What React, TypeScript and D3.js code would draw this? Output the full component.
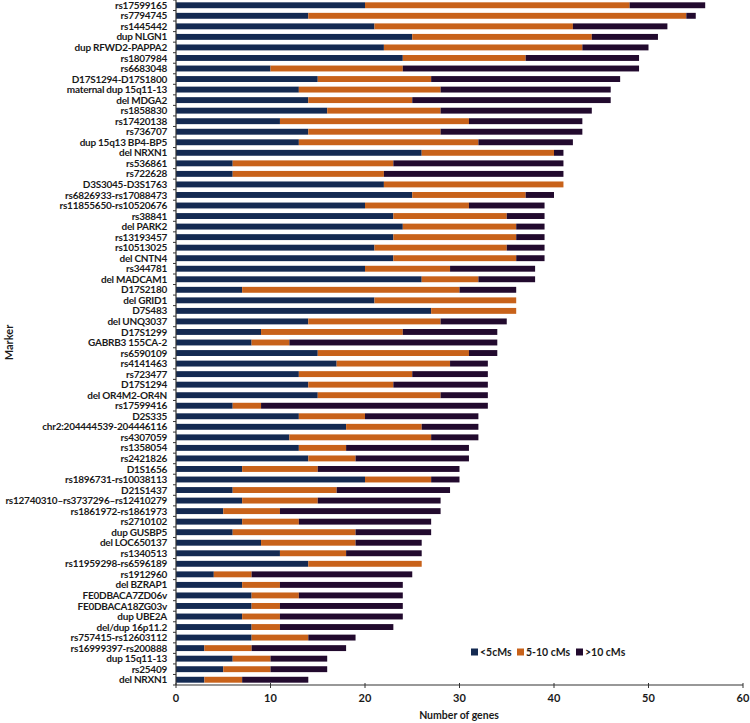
import React from "react";
import * as d3 from "d3";

const categories = [
  "rs17599165", "rs7794745", "rs1445442", "dup NLGN1", "dup RFWD2-PAPPA2", "rs1807984", "rs6683048",
  "D17S1294-D17S1800", "maternal dup 15q11-13", "del MDGA2", "rs1858830", "rs17420138", "rs736707",
  "dup 15q13 BP4-BP5", "del NRXN1", "rs536861", "rs722628", "D3S3045-D3S1763", "rs6826933-rs17088473",
  "rs11855650-rs10520676", "rs38841", "del PARK2", "rs13193457", "rs10513025", "del CNTN4", "rs344781",
  "del MADCAM1", "D17S2180", "del GRID1", "D7S483", "del UNQ3037", "D17S1299", "GABRB3 155CA-2",
  "rs6590109", "rs4141463", "rs723477", "D17S1294", "del OR4M2-OR4N", "rs17599416 ", "D2S335",
  "chr2:204444539-204446116", "rs4307059", "rs1358054", "rs2421826", "D1S1656", "rs1896731-rs10038113",
  "D21S1437", "rs12740310\u2013rs3737296\u2013rs12410279", "rs1861972-rs1861973", "rs2710102", "dup GUSBP5",
  "del LOC650137", "rs1340513", "rs11959298-rs6596189", "rs1912960", "del BZRAP1", "FE0DBACA7ZD06v",
  "FE0DBACA18ZG03v", "dup UBE2A", "del/dup 16p11.2", "rs757415-rs12603112", "rs16999397-rs200888",
  "dup 15q11-13", "rs25409", "del NRXN1 ",
];

const lt5 = [
  20, 14, 21, 25, 22, 24, 10, 15, 13, 14, 16, 11, 14, 13, 26, 6, 6, 22, 25, 20, 23, 24, 23, 21, 23, 20,
  26, 7, 21, 27, 14, 9, 8, 15, 17, 13, 14, 15, 6, 13, 18, 12, 13, 14, 7, 20, 6, 7, 5, 7, 6, 9, 11, 14,
  4, 7, 8, 8, 7, 8, 8, 3, 6, 5, 3,
];
const mid5to10 = [
  28, 40, 21, 19, 21, 13, 14, 12, 15, 11, 12, 20, 14, 19, 14, 17, 16, 19, 12, 11, 12, 12, 13, 14, 13, 9,
  6, 23, 15, 9, 14, 15, 4, 16, 12, 12, 9, 13, 3, 7, 8, 15, 5, 5, 8, 7, 11, 8, 6, 6, 13, 10, 7, 12,
  4, 4, 5, 3, 4, 3, 6, 5, 4, 5, 4,
];
const gt10 = [
  8, 1, 10, 7, 7, 12, 25, 20, 18, 21, 16, 12, 15, 10, 1, 18, 19, 0, 3, 8, 4, 3, 3, 4, 3, 9,
  6, 6, 0, 0, 7, 10, 22, 3, 4, 8, 10, 5, 24, 12, 6, 5, 13, 12, 15, 3, 12, 13, 17, 14, 8, 7, 8, 0,
  17, 13, 11, 13, 13, 12, 5, 10, 6, 6, 7,
];

const seriesKeys = ["lt5", "mid", "gt10"];
const seriesNames = ["<5cMs", "5-10 cMs", ">10 cMs"];
const seriesColors = ["#142a52", "#c8621a", "#220a2e"];
const xTicks = [0, 10, 20, 30, 40, 50, 60];

const FONT = "Lato, 'Open Sans', sans-serif";

export default function App() {
  const W = 750;
  const H = 723;
  const x0 = 176;
  const x1 = 743;
  const yTop = 0;
  const yBot = 685;

  const table = categories.map((c, i) => ({ cat: c, lt5: lt5[i], mid: mid5to10[i], gt10: gt10[i] }));
  const stacked = d3.stack<any>().keys(seriesKeys)(table);

  const x = d3.scaleLinear().domain([0, 60]).range([x0, x1]);
  const y = d3.scaleBand<string>().domain(categories).range([yTop, yBot]).paddingInner(0.44).paddingOuter(0.22);
  const step = y.step();
  const bh = y.bandwidth();

  return (
    <svg width={W} height={H} style={{ position: "absolute", left: 0, top: 0, background: "#fff" }}>
      {stacked.map((s, si) => (
        <g key={s.key} fill={seriesColors[si]}>
          {s.map((d: any, i: number) => (
            <rect
              key={i}
              x={x(d[0])}
              y={y(categories[i])!}
              width={Math.max(0, x(d[1]) - x(d[0]))}
              height={bh}
            />
          ))}
        </g>
      ))}
      {/* y axis */}
      <line x1={x0} x2={x0} y1={yTop} y2={yBot} stroke="#333" strokeWidth={1.2} />
      {categories.map((c, i) => (
        <line key={"t" + i} x1={x0 - 3} x2={x0} y1={yTop + step * (i + 1)} y2={yTop + step * (i + 1)} stroke="#333" strokeWidth={1} />
      ))}
      <line x1={x0 - 3} x2={x0} y1={yTop} y2={yTop} stroke="#333" strokeWidth={1} />
      {categories.map((c, i) => (
        <text
          key={"l" + i}
          x={167}
          y={y(c)! + bh / 2}
          dy="0.36em"
          textAnchor="end"
          fontFamily={FONT}
          fontSize={10}
          fontWeight={700}
          letterSpacing={-0.25}
          fill="#1a1a1a"
        >
          {c}
        </text>
      ))}
      {/* x axis */}
      <line x1={x0} x2={x1} y1={yBot} y2={yBot} stroke="#333" strokeWidth={1.2} />
      {xTicks.map((t) => (
        <g key={"x" + t}>
          <line x1={x(t)} x2={x(t)} y1={yBot - 2} y2={yBot + 3} stroke="#333" strokeWidth={1} />
          <text x={x(t)} y={yBot + 17} textAnchor="middle" fontFamily={FONT} fontSize={11} fontWeight={700} fill="#1a1a1a">
            {t}
          </text>
        </g>
      ))}
      <text x={459} y={719} textAnchor="middle" fontFamily={FONT} fontSize={10.5} fontWeight={700} fill="#1a1a1a">
        Number of genes
      </text>
      <text
        transform={`translate(13, ${(yTop + yBot) / 2}) rotate(-90)`}
        textAnchor="middle"
        fontFamily={FONT}
        fontSize={11}
        fontWeight={700}
        fill="#1a1a1a"
      >
        Marker
      </text>
      {/* legend */}
      {(() => {
        const starts = [471, 517, 576];
        return seriesNames.map((n, i) => (
          <g key={"lg" + i} transform={`translate(${starts[i]}, 652)`}>
            <rect x={0} y={-3.5} width={7} height={7} fill={seriesColors[i]} />
            <text x={9} y={0} dy="0.36em" fontFamily={FONT} fontSize={10.5} fontWeight={700} fill="#1a1a1a">
              {n}
            </text>
          </g>
        ));
      })()}
    </svg>
  );
}
